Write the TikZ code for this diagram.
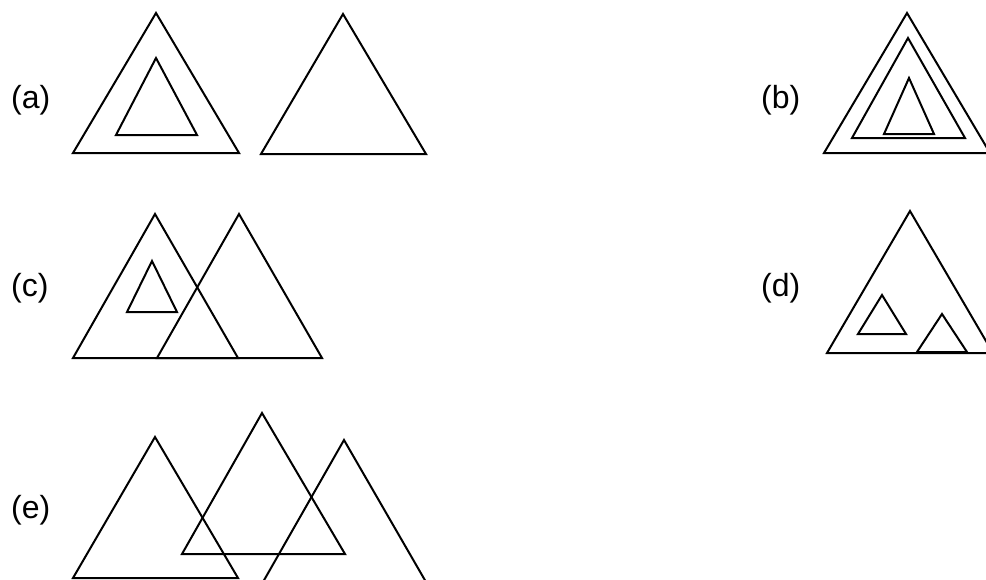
\documentclass[tikz,border=0pt]{standalone}
\usepackage{fontspec}
\setmainfont{Liberation Sans}
\begin{document}
\begin{tikzpicture}[x=1pt,y=-1pt,
  tri/.style={draw=black,line width=2pt,line join=miter},
  lab/.style={anchor=base west,inner sep=0pt,font=\fontsize{32}{38}\selectfont}]
\useasboundingbox (0,0) rectangle (986,579);
\clip (0,0) rectangle (986,579);
% (a)
\node[lab] (la) at (11,108) {(a)};
\draw[tri] (156,13) -- (73,153) -- (239,153) -- cycle;
\draw[tri] (156,58) -- (116,135) -- (197,135) -- cycle;
\draw[tri] (343,14) -- (261,154) -- (426,154) -- cycle;
% (b)
\node[lab] (lb) at (761,108) {(b)};
\draw[tri] (907,13) -- (824,153) -- (990,153) -- cycle;
\draw[tri] (908,38) -- (852,138) -- (965,138) -- cycle;
\draw[tri] (909,78) -- (884,134) -- (934,134) -- cycle;
% (c)
\node[lab] (lc) at (11,296) {(c)};
\draw[tri] (155,214) -- (73,358) -- (238,358) -- cycle;
\draw[tri] (239,214) -- (157,358) -- (322,358) -- cycle;
\draw[tri] (152,261) -- (127,312) -- (177,312) -- cycle;
% (d)
\node[lab] (ld) at (761,296) {(d)};
\draw[tri] (910,211) -- (827,353) -- (993,353) -- cycle;
\draw[tri] (882,295) -- (858,334) -- (906,334) -- cycle;
\draw[tri] (942,314) -- (917,352) -- (967,352) -- cycle;
% (e)
\node[lab] (le) at (11,518) {(e)};
\draw[tri] (155,437) -- (73,578) -- (238,578) -- cycle;
\draw[tri] (262,413) -- (182,554) -- (345,554) -- cycle;
\draw[tri] (344,440) -- (263,582) -- (426,582) -- cycle;
\end{tikzpicture}
\end{document}
